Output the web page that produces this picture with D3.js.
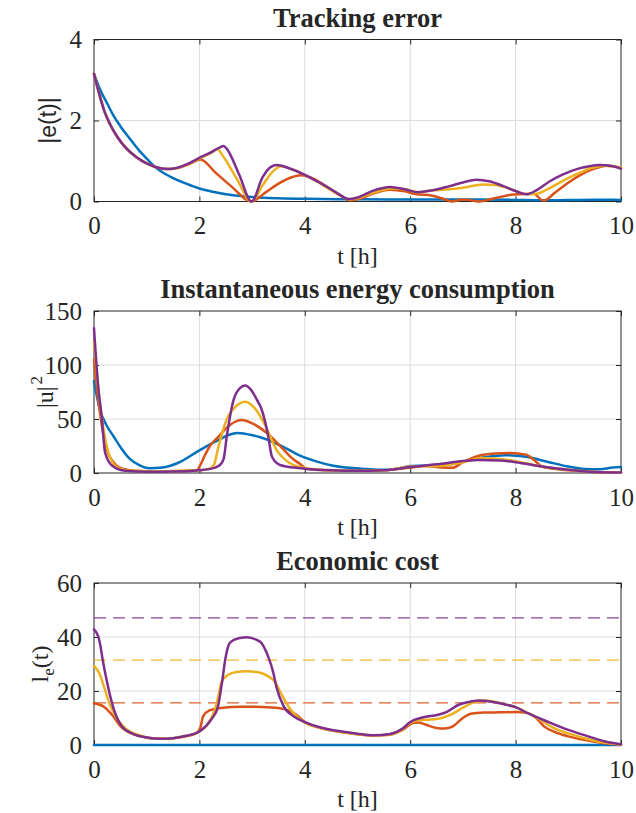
<!DOCTYPE html>
<html>
<head>
<meta charset="utf-8">
<script src="https://cdn.jsdelivr.net/npm/d3@7"></script>
<style>
  body { margin: 0; background: #fff; }
  text { font-family: "Liberation Serif", "Times New Roman", serif; fill: #262626; }
</style>
</head>
<body>
<svg id="fig" width="636" height="813"></svg>
<script>
// ---- data -------------------------------------------------------------
const hourTicks   = [0, 2, 4, 6, 8, 10];
const errorTicks  = [0, 2, 4];
const energyTicks = [0, 50, 100, 150];
const costTicks   = [0, 20, 40, 60];

const seriesColors = ["#0072BD", "#D95319", "#EDB120", "#7E2F8E"];

// |e(t)| : tracking error, [t (h), value]
const errorBlue = [[0,3.15],[0.12,2.75],[0.25,2.42],[0.37,2.12],[0.5,1.86],[0.68,1.55],[0.85,1.27],[1.0,1.06],[1.19,0.82],[1.35,0.68],[1.5,0.58],[1.75,0.44],[2.0,0.32],[2.25,0.24],[2.5,0.18],[2.75,0.14],[3.0,0.11],[3.5,0.08],[4.0,0.065],[5.0,0.055],[6.0,0.05],[7.0,0.05],[8.0,0.04],[8.5,0.03],[9.0,0.035],[9.5,0.045],[10,0.04]];
const errorOrange = [[0,3.15],[0.1,2.65],[0.2,2.22],[0.3,1.92],[0.45,1.58],[0.6,1.33],[0.8,1.1],[1.0,0.94],[1.2,0.84],[1.4,0.8],[1.6,0.83],[1.8,0.92],[2.02,1.04],[2.3,0.72],[2.6,0.38],[2.99,0.0],[3.25,0.22],[3.5,0.44],[3.75,0.6],[3.93,0.65],[4.1,0.6],[4.4,0.38],[4.65,0.17],[4.87,0.03],[5.05,0.07],[5.3,0.2],[5.62,0.29],[5.9,0.25],[6.12,0.18],[6.4,0.15],[6.6,0.08],[6.79,0.0],[7.0,0.05],[7.1,0.04],[7.3,0.0],[7.6,0.08],[7.96,0.17],[8.34,0.19],[8.53,0.02],[8.75,0.22],[8.97,0.44],[9.25,0.67],[9.54,0.83],[9.72,0.88],[10,0.83]];
const errorYellow = [[0,3.15],[0.1,2.65],[0.2,2.22],[0.3,1.92],[0.45,1.58],[0.6,1.33],[0.8,1.1],[1.0,0.94],[1.2,0.84],[1.4,0.8],[1.6,0.83],[1.8,0.93],[2.0,1.06],[2.2,1.18],[2.34,1.29],[2.45,1.12],[2.7,0.58],[2.99,0.0],[3.2,0.4],[3.4,0.75],[3.55,0.87],[3.75,0.8],[4.0,0.66],[4.3,0.44],[4.6,0.2],[4.85,0.05],[5.0,0.08],[5.3,0.22],[5.65,0.32],[5.9,0.3],[6.15,0.23],[6.4,0.27],[6.75,0.3],[7.0,0.34],[7.39,0.42],[7.6,0.41],[7.8,0.35],[8.0,0.26],[8.21,0.18],[8.4,0.19],[8.6,0.3],[8.97,0.56],[9.2,0.7],[9.47,0.84],[9.7,0.88],[10,0.84]];
const errorPurple = [[0,3.15],[0.1,2.65],[0.2,2.22],[0.3,1.92],[0.45,1.58],[0.6,1.33],[0.8,1.1],[1.0,0.94],[1.2,0.84],[1.4,0.8],[1.6,0.84],[1.8,0.94],[2.0,1.08],[2.2,1.2],[2.38,1.33],[2.46,1.37],[2.52,1.3],[2.75,0.68],[2.99,0.0],[3.2,0.6],[3.35,0.85],[3.47,0.9],[3.7,0.82],[4.0,0.66],[4.3,0.45],[4.6,0.22],[4.83,0.06],[5.0,0.1],[5.3,0.27],[5.62,0.36],[5.9,0.3],[6.15,0.23],[6.4,0.27],[6.75,0.38],[7.0,0.47],[7.26,0.54],[7.5,0.5],[7.77,0.38],[8.0,0.26],[8.21,0.18],[8.4,0.28],[8.65,0.5],[8.9,0.67],[9.16,0.8],[9.4,0.87],[9.6,0.9],[9.8,0.88],[10,0.81]];

// |u|^2 : instantaneous energy consumption
const energyBlue = [[0,85],[0.11,59],[0.24,44],[0.37,34],[0.5,24],[0.68,13],[0.85,7.5],[1.05,4.3],[1.3,5],[1.6,9.5],[2.0,21],[2.3,29],[2.5,34],[2.71,37],[2.9,36],[3.28,31],[3.6,24],[3.91,16],[4.2,11],[4.54,6.7],[5.18,3.7],[5.5,3],[5.8,4.5],[6.0,6.5],[6.2,6.8],[6.6,7],[7.0,10.5],[7.4,14.5],[7.8,16.5],[8.2,15],[8.6,10.5],[9.0,6],[9.3,3.8],[9.6,3.5],[9.85,5],[10,5.5]];
const energyOrange = [[0,105],[0.1,60],[0.24,22],[0.37,10],[0.56,3.7],[0.8,2],[1.2,1.5],[1.6,1.8],[1.95,2.5],[2.01,6.7],[2.1,16],[2.2,25],[2.35,33],[2.52,42],[2.66,47],[2.8,49],[3.0,46],[3.28,37],[3.59,22],[3.75,14],[3.91,8.3],[4.04,3.7],[4.5,2.5],[5.0,2],[5.5,2.5],[6.0,5],[6.3,6.5],[6.6,5],[6.8,4.8],[7.0,10],[7.3,16],[7.6,18],[7.9,18.5],[8.2,17],[8.35,12],[8.5,6],[8.8,3.5],[9.2,2],[9.6,0.8],[10,0.3]];
const energyYellow = [[0,122],[0.1,70],[0.2,35],[0.3,15],[0.45,5],[0.7,2],[1.2,1.5],[2.0,2.5],[2.2,4],[2.28,8],[2.35,22],[2.45,40],[2.55,53],[2.7,62],[2.87,66],[3.05,60],[3.25,44],[3.47,21],[3.69,10],[3.9,5.5],[4.2,3.5],[4.5,2.5],[5.0,2],[5.5,2.5],[6.0,6],[6.5,6.5],[7.0,10],[7.35,14],[7.6,13.5],[8.0,11],[8.5,6],[9.0,3],[9.5,1],[10,0.3]];
const energyPurple = [[0,134],[0.08,80],[0.15,50],[0.21,19],[0.34,7],[0.6,2],[1.0,1.2],[1.5,1.3],[2.0,2.5],[2.3,5],[2.4,8],[2.46,13],[2.52,34],[2.65,68],[2.78,79],[2.87,81],[2.98,77],[3.1,67],[3.18,59],[3.31,33],[3.37,16],[3.45,10],[3.53,7.4],[3.8,5],[4.0,4],[4.5,2.5],[5.0,2],[5.5,2.5],[6.0,5.5],[6.5,8],[7.0,11],[7.3,12],[7.7,11.5],[8.0,10],[8.5,6],[9.0,3],[9.5,1],[10,0.5]];

// l_e(t) : economic cost, with each controller's bound (dashed)
const costBlue = [[0,0],[10,0]];
const costOrange = [[0,15.5],[0.1,15],[0.2,14],[0.35,11],[0.5,7],[0.75,4],[1.0,2.7],[1.25,2.3],[1.5,2.5],[1.75,3.2],[1.95,4.5],[2.02,6.5],[2.07,10.6],[2.19,12.8],[2.4,13.7],[2.8,14.2],[3.2,14.1],[3.5,13.7],[3.7,12.7],[3.85,11],[4.0,8.5],[4.3,6.3],[4.7,4.8],[5.0,4.0],[5.3,3.5],[5.6,3.8],[5.85,5.5],[6.07,8.2],[6.15,8.3],[6.3,7.5],[6.5,6.3],[6.65,6.1],[6.8,6.8],[7.0,10],[7.15,11.6],[7.4,12],[7.7,12.1],[8.0,12.2],[8.23,11.8],[8.4,9.8],[8.54,6.9],[8.75,4.8],[9.0,3.2],[9.5,1.2],[10,0.1]];
const costYellow = [[0,29.3],[0.1,26.6],[0.2,21],[0.3,15],[0.4,11],[0.6,6],[0.8,4],[1.0,2.8],[1.25,2.3],[1.5,2.5],[1.75,3.4],[2.0,5],[2.15,7.5],[2.25,11],[2.3,13.6],[2.37,19],[2.42,23.5],[2.55,26],[2.7,27],[2.9,27.3],[3.1,27],[3.3,25.5],[3.45,23],[3.55,19],[3.7,14],[3.85,10.5],[4.0,8.3],[4.3,6.3],[4.7,4.8],[5.0,4],[5.3,3.5],[5.6,3.8],[5.85,5.8],[6.0,8.2],[6.2,9.3],[6.4,9.4],[6.6,10],[6.8,11.5],[7.0,13.8],[7.2,15.8],[7.4,16.5],[7.6,16],[7.8,15],[8.0,14],[8.23,11.8],[8.5,9],[8.7,6.5],[9.0,4.3],[9.5,1.6],[10,0.2]];
const costPurple = [[0,42.8],[0.1,38.9],[0.17,31],[0.24,24],[0.38,13],[0.53,6.9],[0.75,4],[1.0,2.8],[1.25,2.3],[1.5,2.5],[1.75,3.4],[2.0,5],[2.22,9.3],[2.35,14],[2.42,22],[2.5,32.7],[2.57,37.6],[2.65,38.9],[2.88,39.9],[3.15,38.3],[3.3,33],[3.4,27],[3.46,21.6],[3.6,14.3],[3.8,10.5],[4.0,8.5],[4.3,6.5],[4.7,5],[5.0,4.2],[5.3,3.6],[5.6,4],[5.85,6],[6.0,8.5],[6.23,10.2],[6.53,11.2],[6.7,12.3],[6.92,14.9],[7.1,15.9],[7.3,16.5],[7.55,16],[7.8,15],[8.0,14],[8.23,11.8],[8.6,8.7],[9.0,5.6],[9.38,3.2],[9.7,1.3],[10,0.3]];
const costBounds = [15.6, 31.4, 47.1];   // orange, yellow, purple

// ---- layout -----------------------------------------------------------
const svg = d3.select("#fig");
const plotLeft = 94, plotWidth = 527, plotHeight = 162;
const axisColor = "#262626", gridColor = "#dcdcdc";
const tickFont = 25, titleFont = 26.5, labelFont = 24;

const panels = [
  { top: 39.5, title: "Tracking error", ymax: 4, yTicks: errorTicks,
    series: [errorBlue, errorOrange, errorYellow, errorPurple], ylabel: "err" },
  { top: 311, title: "Instantaneous energy consumption", ymax: 150, yTicks: energyTicks,
    series: [energyBlue, energyOrange, energyYellow, energyPurple], ylabel: "energy" },
  { top: 583, title: "Economic cost", ymax: 60, yTicks: costTicks,
    series: [costBlue, costOrange, costYellow, costPurple], ylabel: "cost", bounds: costBounds }
];

panels.forEach(p => {
  const g = svg.append("g").attr("transform", `translate(${plotLeft},${p.top})`);
  const x = d3.scaleLinear().domain([0, 10]).range([0, plotWidth]);
  const y = d3.scaleLinear().domain([0, p.ymax]).range([plotHeight, 0]);

  // grid
  g.append("g").selectAll("line").data(hourTicks.slice(1, -1)).join("line")
    .attr("x1", d => x(d)).attr("x2", d => x(d)).attr("y1", 0).attr("y2", plotHeight)
    .attr("stroke", gridColor).attr("stroke-width", 1);
  g.append("g").selectAll("line").data(p.yTicks.slice(1, -1)).join("line")
    .attr("y1", d => y(d)).attr("y2", d => y(d)).attr("x1", 0).attr("x2", plotWidth)
    .attr("stroke", gridColor).attr("stroke-width", 1);

  // ticks on all four sides, pointing inward (drawn beneath the data)
  const styleAxis = sel => {
    sel.select(".domain").remove();
    sel.selectAll(".tick line").attr("stroke", axisColor);
    sel.selectAll("text").style("font-size", tickFont + "px").attr("fill", axisColor)
      .style("font-family", '"Liberation Serif", serif');
  };
  const fmt = d3.format("d");
  g.append("g").attr("transform", `translate(0,${plotHeight})`)
    .call(d3.axisBottom(x).tickValues(hourTicks).tickFormat(fmt).tickSizeInner(-5).tickSizeOuter(0).tickPadding(15))
    .call(styleAxis);
  g.append("g")
    .call(d3.axisTop(x).tickValues(hourTicks).tickSizeInner(-5).tickSizeOuter(0).tickFormat(""))
    .call(styleAxis);
  g.append("g")
    .call(d3.axisLeft(y).tickValues(p.yTicks).tickFormat(fmt).tickSizeInner(-5).tickSizeOuter(0).tickPadding(12))
    .call(styleAxis);
  g.append("g").attr("transform", `translate(${plotWidth},0)`)
    .call(d3.axisRight(y).tickValues(p.yTicks).tickSizeInner(-5).tickSizeOuter(0).tickFormat(""))
    .call(styleAxis);

  g.append("rect").attr("width", plotWidth).attr("height", plotHeight)
    .attr("fill", "none").attr("stroke", axisColor).attr("stroke-width", 1);

  // dashed bounds
  if (p.bounds) {
    g.append("g").selectAll("line").data(p.bounds).join("line")
      .attr("x1", x(0)).attr("x2", x(10)).attr("y1", d => y(d)).attr("y2", d => y(d))
      .attr("stroke", (d, i) => seriesColors[i + 1]).attr("stroke-width", 1.2)
      .attr("stroke-dasharray", "12,7").attr("opacity", 0.9);
  }

  // series
  const line = d3.line().x(d => x(d[0])).y(d => y(d[1])).curve(d3.curveMonotoneX);
  g.append("g").selectAll("path").data(p.series).join("path")
    .attr("d", line).attr("fill", "none")
    .attr("stroke", (d, i) => seriesColors[i]).attr("stroke-width", 2.5)
    .attr("stroke-linejoin", "round").attr("stroke-linecap", "round");

  // title
  g.append("text").attr("x", plotWidth / 2).attr("y", -13).attr("text-anchor", "middle")
    .style("font-size", titleFont + "px").style("font-weight", "bold").attr("fill", "#000")
    .text(p.title);

  // x label
  g.append("text").attr("x", plotWidth / 2).attr("y", plotHeight + 62).attr("text-anchor", "middle")
    .style("font-size", labelFont + "px").text("t [h]");

  // y label
  const yl = g.append("text")
    .attr("text-anchor", "middle").style("font-size", labelFont + "px");
  if (p.ylabel === "err") {
    yl.attr("transform", `translate(-38,${plotHeight / 2}) rotate(-90)`)
      .style("font-family", '"Liberation Sans", Arial, sans-serif').style("font-size", "23px").text("|e(t)|");
  } else if (p.ylabel === "energy") {
    yl.attr("transform", `translate(-41,${plotHeight / 2}) rotate(-90)`);
    yl.append("tspan").text("|u|");
    yl.append("tspan").attr("dx", 2).attr("dy", -11).style("font-size", "17px").text("2");
  } else {
    yl.attr("transform", `translate(-46,${plotHeight / 2}) rotate(-90)`);
    yl.append("tspan").text("l");
    yl.append("tspan").attr("dy", 6).style("font-size", "17px").text("e");
    yl.append("tspan").attr("dy", -6).text("(t)");
  }
});
</script>
</body>
</html>
